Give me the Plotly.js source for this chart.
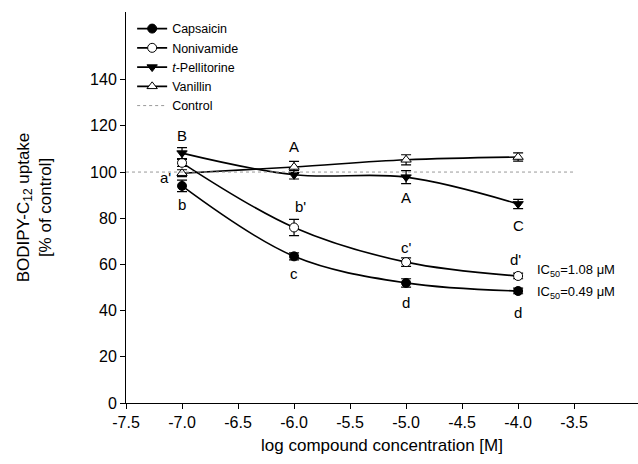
<!DOCTYPE html>
<html><head><meta charset="utf-8">
<script src="https://cdn.plot.ly/plotly-3.0.1.min.js"></script>
<style>html,body{margin:0;padding:0;background:#fff}#chart{width:638px;height:464px}</style>
</head><body><div id="chart"></div>
<script>
const logConc = [-7, -6, -5, -4];
const capsaicin = [94, 63.5, 52, 48.5];
const capsaicinErr = [2.5, 1.5, 1.8, 1.2];
const nonivamide = [104, 76, 61, 55];
const nonivamideErr = [1.5, 3.5, 1.8, 1.2];
const pellitorine = [108.2, 98.8, 97.8, 86.2];
const pellitorineErr = [2.4, 1.8, 2.8, 2.0];
const vanillin = [99.5, 102.2, 105.3, 106.5];
const vanillinErr = [1.5, 2.4, 2.2, 1.8];
const controlX = [-7.5, -3.5];
const controlY = [100, 100];
const xTicks = [-7.5, -7.0, -6.5, -6.0, -5.5, -5.0, -4.5, -4.0, -3.5];
const xTickText = ['-7.5','-7.0','-6.5','-6.0','-5.5','-5.0','-4.5','-4.0','-3.5'];
const yTicks = [0, 20, 40, 60, 80, 100, 120, 140];
const letterLabels = [
  {x: -7, y: 116, t: 'B'}, {x: -7.15, y: 97.5, t: "a'"}, {x: -7, y: 86, t: 'b'},
  {x: -6, y: 111, t: 'A'}, {x: -5.946, y: 85, t: "b'"}, {x: -6, y: 56, t: 'c'},
  {x: -5, y: 89, t: 'A'}, {x: -5, y: 67.5, t: "c'"}, {x: -5, y: 43.5, t: 'd'},
  {x: -4, y: 77, t: 'C'}, {x: -4.02, y: 62, t: "d'"}, {x: -4, y: 39, t: 'd'}
];
const icLabels = [
  {x: -3.85, y: 57.4, t: 'IC<sub>50</sub>=1.08 μM'},
  {x: -3.85, y: 48, t: 'IC<sub>50</sub>=0.49 μM'}
];

function series(name, y, err, symbol, fill) {
  return {
    x: logConc, y: y, name: name, type: 'scatter', mode: 'lines+markers',
    line: {color: '#000', width: 1.6, shape: 'spline', smoothing: 1},
    marker: {symbol: symbol, size: 9, color: fill, line: {color: '#000', width: 1}},
    error_y: {type: 'data', array: err, visible: true, color: '#000', thickness: 1.2, width: 5}
  };
}
const data = [
  series('Capsaicin', capsaicin, capsaicinErr, 'circle', '#000'),
  series('Nonivamide', nonivamide, nonivamideErr, 'circle', '#fff'),
  series('<i>t</i>-Pellitorine', pellitorine, pellitorineErr, 'triangle-down', '#000'),
  series('Vanillin', vanillin, vanillinErr, 'triangle-up', '#fff'),
  {x: controlX, y: controlY, name: 'Control', type: 'scatter', mode: 'lines',
   line: {color: '#999', width: 1, dash: 'dot'}}
];
const font = {family: 'Liberation Sans, Arial, sans-serif', color: '#000'};
const annotations = letterLabels.map(a => ({x: a.x, y: a.y, text: a.t, showarrow: false,
  font: Object.assign({size: 15}, font), xanchor: 'center', yanchor: 'middle'}))
  .concat(icLabels.map(a => ({x: a.x, y: a.y, text: a.t, showarrow: false,
  font: Object.assign({size: 13}, font), xanchor: 'left', yanchor: 'middle'})));
const layout = {
  width: 638, height: 464,
  margin: {l: 126, r: 0, t: 12, b: 61},
  paper_bgcolor: '#fff', plot_bgcolor: '#fff',
  font: Object.assign({size: 14}, font),
  showlegend: true,
  legend: {x: 0.012, y: 0.995, xanchor: 'left', yanchor: 'top', bgcolor: 'rgba(0,0,0,0)',
           font: Object.assign({size: 12.5}, font), tracegroupgap: 0},
  xaxis: {range: [-7.5, -2.93], tickvals: xTicks, ticktext: xTickText, showline: true,
          linecolor: '#000', linewidth: 1, ticks: 'outside', ticklen: 5, tickcolor: '#000',
          showgrid: false, zeroline: false, tickfont: Object.assign({size: 16}, font),
          title: {text: 'log compound concentration [M]', font: Object.assign({size: 17}, font), standoff: 8}},
  yaxis: {range: [0, 169.3], tickvals: yTicks, showline: true, linecolor: '#000', linewidth: 1,
          ticks: 'outside', ticklen: 5, tickcolor: '#000', showgrid: false, zeroline: false,
          tickfont: Object.assign({size: 16}, font),
          title: {text: 'BODIPY-C<sub>12</sub> uptake<br>[% of control]', font: Object.assign({size: 17}, font), standoff: 34}},
  annotations: annotations
};
Plotly.newPlot('chart', data, layout, {displayModeBar: false, staticPlot: true});
</script></body></html>
